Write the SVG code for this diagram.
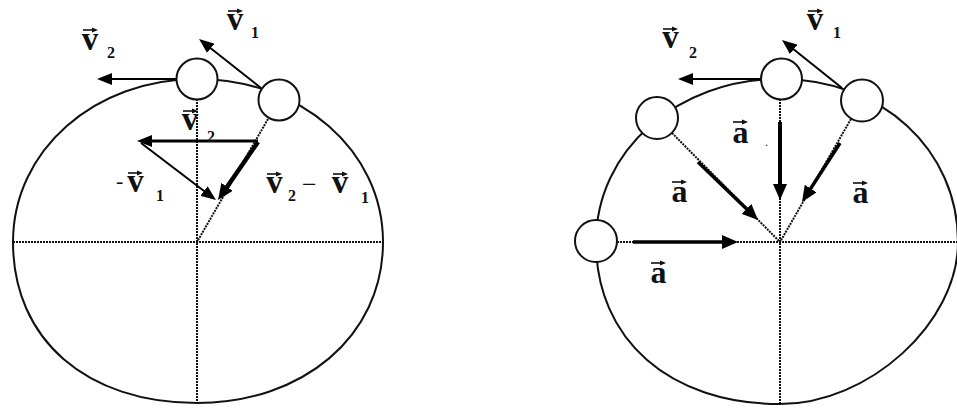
<svg xmlns="http://www.w3.org/2000/svg" xmlns:xlink="http://www.w3.org/1999/xlink" width="957" height="409" viewBox="0 0 957 409">
  <style>
    .orbit { fill: none; stroke: #111; stroke-width: 2; }
    .ball { fill: #fff; stroke: #111; stroke-width: 2; }
    .dot { fill: none; stroke: #111; stroke-width: 2; stroke-dasharray: 2 1; }
    .arr { fill: none; stroke: #000; stroke-linecap: butt; }
    .t { font-family: "Liberation Serif", "Times New Roman", serif; fill: #111; }
    .sym { font-size: 33px; font-weight: bold; text-anchor: middle; }
    .sa { font-size: 32px; font-weight: bold; text-anchor: middle; }
    .sub { font-size: 16px; font-weight: bold; }
  </style>
  <defs>
    <marker id="ah" markerUnits="userSpaceOnUse" markerWidth="15" markerHeight="12" refX="5" refY="6" orient="auto">
      <path d="M0,0 L15,6 L0,12 z" fill="#000"/>
    </marker>
    <marker id="ah2" markerUnits="userSpaceOnUse" markerWidth="16" markerHeight="14" refX="6" refY="7" orient="auto">
      <path d="M0,0 L16,7 L0,14 z" fill="#000"/>
    </marker>
    <g id="vbar">
      <line x1="0" y1="0" x2="11" y2="0" stroke="#111" stroke-width="1.6"/>
      <path d="M9,-2.6 L15,0 L9,2.6 z" fill="#111"/>
    </g>
  </defs>

  <rect width="957" height="409" fill="#fff"/>

  <!-- Left figure -->
  <g id="left-orbit">
    <path class="orbit" d="M13,242 C13,150 95,79 197,79 C300,79 383,150 383,242 C383,337 302,403 197,403 C87,403 13,340 13,242 Z"/>
    <line class="dot" x1="13" y1="242" x2="383" y2="242"/>
    <line class="dot" x1="197" y1="99" x2="197" y2="403"/>
    <line class="dot" x1="268" y1="119" x2="197" y2="242"/>
  </g>

  <!-- Right figure -->
  <g id="right-orbit">
    <path class="orbit" d="M596,242 C596,150 678,79 780,79 C882,79 958,150 958,242 C958,323 869,404 780,404 C670,404 596,340 596,242 Z"/>
    <line class="dot" x1="617" y1="242" x2="957" y2="242"/>
    <line class="dot" x1="780" y1="99" x2="780" y2="404"/>
    <line class="dot" x1="672" y1="133" x2="780" y2="242"/>
    <line class="dot" x1="851" y1="119" x2="780" y2="242"/>
  </g>

  <g id="connectors">
    <!-- left figure -->
    <line class="arr" x1="177" y1="79" x2="107" y2="79" stroke-width="2" marker-end="url(#ah)"/>
    <line class="arr" x1="261" y1="88" x2="206.9" y2="45.2" stroke-width="2" marker-end="url(#ah)"/>
    <line class="arr" x1="258" y1="141" x2="147" y2="141" stroke-width="3" marker-end="url(#ah)"/>
    <line class="arr" x1="141" y1="143" x2="208" y2="194" stroke-width="2" marker-end="url(#ah)"/>
    <line class="arr" x1="258" y1="142" x2="223.7" y2="191.8" stroke-width="4.5" marker-end="url(#ah2)"/>
    <!-- right figure -->
    <line class="arr" x1="761" y1="79" x2="688" y2="79" stroke-width="2" marker-end="url(#ah)"/>
    <line class="arr" x1="842" y1="88" x2="789.8" y2="46.3" stroke-width="2" marker-end="url(#ah)"/>
    <line class="arr" x1="633" y1="242" x2="728" y2="242" stroke-width="3.5" marker-end="url(#ah2)"/>
    <line class="arr" x1="780" y1="122" x2="780" y2="190" stroke-width="4" marker-end="url(#ah2)"/>
    <line class="arr" x1="698" y1="162" x2="750.8" y2="213" stroke-width="3.5" marker-end="url(#ah2)"/>
    <line class="arr" x1="840" y1="143" x2="807.4" y2="193.6" stroke-width="3.5" marker-end="url(#ah2)"/>
  </g>

  <g id="ball-L1"><circle class="ball" cx="197" cy="79" r="20.5"/></g>
  <g id="ball-L2"><circle class="ball" cx="279" cy="100" r="20.5"/></g>
  <g id="ball-R1"><circle class="ball" cx="596" cy="241" r="21"/></g>
  <g id="ball-R2"><circle class="ball" cx="657" cy="118" r="21"/></g>
  <g id="ball-R3"><circle class="ball" cx="781.5" cy="79" r="20.5"/></g>
  <g id="ball-R4"><circle class="ball" cx="862" cy="100.5" r="21"/></g>

  <g id="labels-left" class="t">
    <text class="t sym" x="90" y="50">v</text><use xlink:href="#vbar" x="83" y="30"/><text class="t sub" x="107" y="58">2</text>
    <text class="t sym" x="235" y="30">v</text><use xlink:href="#vbar" x="228" y="11"/><text class="t sub" x="251" y="38">1</text>
    <text class="t sym" x="190" y="130">v</text><use xlink:href="#vbar" x="183" y="111"/><text class="t sub" x="207" y="142">2</text>
    <text class="t" x="116" y="188" font-size="22">-</text>
    <text class="t sym" x="135.5" y="192">v</text><use xlink:href="#vbar" x="128" y="173"/><text class="t sub" x="156" y="201">1</text>
    <text class="t sym" x="274.5" y="193">v</text><use xlink:href="#vbar" x="267" y="174"/><text class="t sub" x="288" y="201">2</text>
    <text class="t" x="302" y="193" font-size="26">−</text>
    <text class="t sym" x="340" y="193">v</text><use xlink:href="#vbar" x="333" y="174"/><text class="t sub" x="361" y="203">1</text>
  </g>

  <g id="labels-right" class="t">
    <text class="t sym" x="670.5" y="48">v</text><use xlink:href="#vbar" x="663" y="29"/><text class="t sub" x="689" y="58">2</text>
    <text class="t sym" x="815" y="30">v</text><use xlink:href="#vbar" x="808" y="11"/><text class="t sub" x="833" y="38">1</text>
    <text class="t sa" x="740.5" y="143">a</text><use xlink:href="#vbar" x="733" y="122"/>
    <text class="t" x="765" y="146" font-size="12">.</text>
    <text class="t sa" x="679.5" y="202">a</text><use xlink:href="#vbar" x="672" y="182"/>
    <text class="t sa" x="860.5" y="203">a</text><use xlink:href="#vbar" x="853" y="183"/>
    <text class="t sa" x="658.5" y="283">a</text><use xlink:href="#vbar" x="651" y="263"/>
  </g>
</svg>
